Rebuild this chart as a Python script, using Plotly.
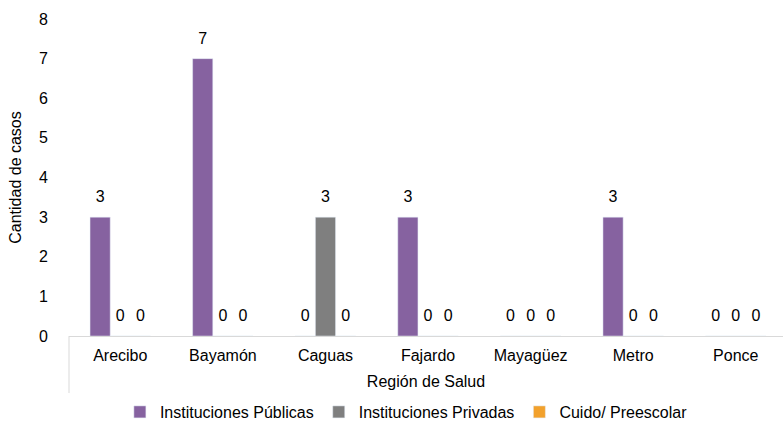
import plotly.graph_objects as go

regions = ["Arecibo", "Bayamón", "Caguas", "Fajardo", "Mayagüez", "Metro", "Ponce"]
publicas = [3, 7, 0, 3, 0, 3, 0]
privadas = [0, 0, 3, 0, 0, 0, 0]
cuido = [0, 0, 0, 0, 0, 0, 0]
series = [
    ("Instituciones Públicas", publicas, "#8662A0"),
    ("Instituciones Privadas", privadas, "#7F7F7F"),
    ("Cuido/ Preescolar", cuido, "#F2A12C"),
]
y_ticks = [0, 1, 2, 3, 4, 5, 6, 7, 8]

FONT = "Liberation Sans, Arial, sans-serif"
FS = 16
GAP = 0.41
fig = go.Figure()
for name, vals, col in series:
    fig.add_trace(go.Bar(
        x=regions, y=vals, name=name, marker_color=col, offsetgroup=name,
    ))
for name, vals, col in series:
    fig.add_trace(go.Scatter(
        x=regions, y=vals, mode="markers+text", text=vals, textposition="top center",
        marker=dict(size=16, opacity=0), offsetgroup=name, showlegend=False,
        hoverinfo="skip", cliponaxis=False,
        textfont=dict(size=FS, color="#000000", family=FONT),
    ))

fig.update_layout(
    width=783, height=424,
    margin=dict(l=69, r=0, t=19, b=88, autoexpand=False),
    paper_bgcolor="white", plot_bgcolor="white",
    font=dict(family=FONT, size=FS, color="#000000"),
    barmode="group", bargap=GAP, bargroupgap=0,
    scattermode="group", scattergap=GAP,
    showlegend=True,
    legend=dict(orientation="h", x=0.519, xref="container", xanchor="center",
                y=-(412 - 336) / 317, yref="paper", yanchor="middle",
                font=dict(size=FS), itemwidth=30, tracegroupgap=0),
    xaxis=dict(range=[-0.5, 6.46], showline=True, linecolor="#D9D9D9", linewidth=1,
               showgrid=False, ticks="", ticklabelstandoff=5, automargin=False,
               title=dict(text="Región de Salud", font=dict(size=FS), standoff=12)),
    yaxis=dict(range=[0, 8], tickvals=y_ticks, showgrid=False, zeroline=False,
               showline=False, ticks="", ticklabelstandoff=20, automargin=False,
               title=dict(text="Cantidad de casos", font=dict(size=FS), standoff=13)),
    shapes=[dict(type="line", xref="paper", yref="paper", x0=0, x1=0, y0=0, y1=-0.18,
                 line=dict(color="#D9D9D9", width=1))],
)
fig.write_html("out.html", config={"displayModeBar": False},
               post_script="document.body.style.margin='0px';")
